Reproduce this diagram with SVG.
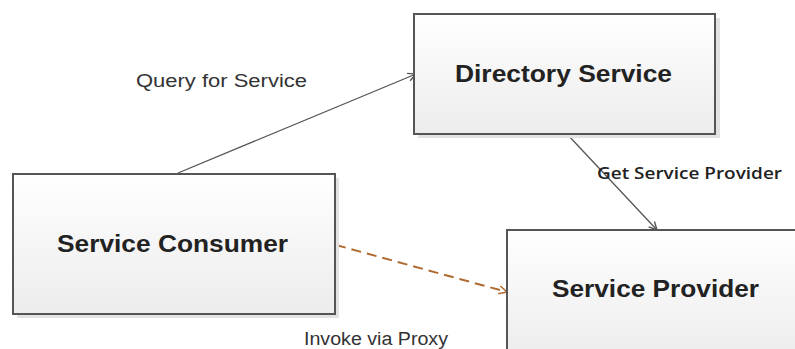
<svg xmlns="http://www.w3.org/2000/svg" width="795" height="349" viewBox="0 0 795 349">
  <defs>
    <linearGradient id="boxFill" x1="0" y1="0" x2="0" y2="1">
      <stop offset="0" stop-color="#ffffff"/>
      <stop offset="1" stop-color="#ececec"/>
    </linearGradient>
    <marker id="arrowGray" viewBox="0 0 10 10" refX="9" refY="5" markerWidth="10" markerHeight="10" markerUnits="userSpaceOnUse" orient="auto">
      <path d="M1,1 L9,5 L1,9" fill="none" stroke="#555" stroke-width="1.4"/>
    </marker>
    <marker id="arrowBrown" viewBox="0 0 10 10" refX="9" refY="5" markerWidth="10" markerHeight="10" markerUnits="userSpaceOnUse" orient="auto">
      <path d="M1,1 L9,5 L1,9" fill="none" stroke="#b06a30" stroke-width="1.6"/>
    </marker>
  </defs>
  <style>
    .shadow { fill: #e2e2e2; }
    .box { fill: url(#boxFill); stroke: #555; stroke-width: 2; }
    .title { font-family: "Liberation Sans", Arial, sans-serif; font-weight: bold; font-size: 23px; fill: #222; }
    .label { font-family: "Liberation Sans", Arial, sans-serif; font-size: 18px; fill: #333; }
    .label2 { font-family: "Open Sans", "Liberation Sans", sans-serif; font-weight: 600; font-size: 17px; fill: #222; }
    .link { fill: none; stroke: #555; stroke-width: 1.3; }
    .proxy { fill: none; stroke: #b06a30; stroke-width: 2; stroke-dasharray: 10 6; }
  </style>

  <rect width="795" height="349" fill="#ffffff"/>

  <!-- connectors -->
  <g id="connectors">
    <line class="link" x1="178" y1="173" x2="416" y2="74" marker-end="url(#arrowGray)"/>
    <line class="link" x1="567" y1="134" x2="657" y2="230" marker-end="url(#arrowGray)"/>
    <line class="proxy" x1="336" y1="245" x2="507" y2="292" marker-end="url(#arrowBrown)"/>
  </g>

  <!-- nodes -->
  <g id="directory-service">
    <rect class="shadow" x="418" y="18" width="302" height="120"/>
    <rect class="box" x="414" y="14" width="301" height="120"/>
    <text class="title" x="455" y="82" textLength="217" lengthAdjust="spacingAndGlyphs">Directory Service</text>
  </g>

  <g id="service-consumer">
    <rect class="shadow" x="17" y="178" width="322" height="140"/>
    <rect class="box" x="13" y="174" width="322" height="140"/>
    <text class="title" x="57" y="252" textLength="231" lengthAdjust="spacingAndGlyphs">Service Consumer</text>
  </g>

  <g id="service-provider">
    <rect class="shadow" x="511" y="234" width="300" height="130"/>
    <rect class="box" x="507" y="230" width="300" height="130"/>
    <text class="title" x="552" y="297" textLength="207" lengthAdjust="spacingAndGlyphs">Service Provider</text>
  </g>

  <!-- connector labels -->
  <g id="labels">
    <text class="label" x="136" y="87" textLength="171" lengthAdjust="spacingAndGlyphs">Query for Service</text>
    <text class="label2" x="597" y="179" textLength="185" lengthAdjust="spacingAndGlyphs">Get Service Provider</text>
    <text class="label" x="304" y="345" textLength="144" lengthAdjust="spacingAndGlyphs">Invoke via Proxy</text>
  </g>
</svg>
